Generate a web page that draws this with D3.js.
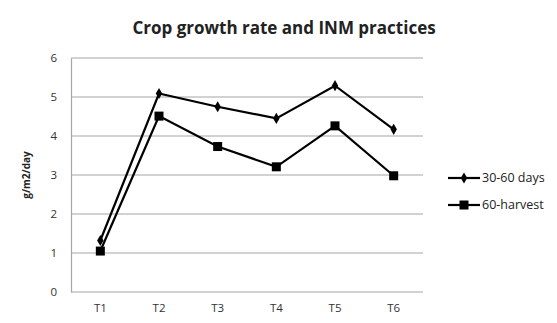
<!DOCTYPE html>
<html><head><meta charset="utf-8">
<script src="https://cdn.jsdelivr.net/npm/d3@7"></script>
<style>body{margin:0;background:#fff}svg{display:block}</style>
</head><body>
<script>
const categories = ["T1","T2","T3","T4","T5","T6"];
const series1Name = "30-60 days";
const series1 = [1.32, 5.09, 4.75, 4.45, 5.29, 4.17];
const series2Name = "60-harvest";
const series2 = [1.05, 4.51, 3.73, 3.21, 4.26, 2.98];
const yTicks = [0,1,2,3,4,5,6];
const titleText = "Crop growth rate and INM practices";
const yTitle = "g/m2/day";

const W = 557, H = 323;
const svg = d3.select("body").append("svg").attr("width", W).attr("height", H);
const m = {left:71, right:W-423, top:58, bottom:H-292};
const x = d3.scaleBand().domain(categories).range([m.left, W-m.right]);
const y = d3.scaleLinear().domain([0,6]).range([H-m.bottom, m.top]);
const font = "Open Sans, Liberation Sans, sans-serif";

// gridlines
svg.append("g").selectAll("line").data(yTicks).join("line")
  .attr("x1", m.left).attr("x2", W-m.right)
  .attr("y1", d=>y(d)).attr("y2", d=>y(d))
  .attr("stroke", "#a6a6a6").attr("stroke-width", 1.2);

// y axis
const ya = svg.append("g").attr("transform", `translate(${m.left},0)`)
  .call(d3.axisLeft(y).tickValues(yTicks).tickFormat(d3.format("d")).tickSize(0).tickPadding(14));
ya.select(".domain").attr("stroke", "#a6a6a6").attr("stroke-width", 1.2);
ya.selectAll("text").attr("font-family", font).attr("font-size", 11.5).attr("fill", "#333");

// x axis
const xa = svg.append("g").attr("transform", `translate(0,${H-m.bottom})`)
  .call(d3.axisBottom(x).tickSize(0).tickPadding(12));
xa.select(".domain").remove();
xa.selectAll("text").attr("font-family", font).attr("font-size", 11.5).attr("fill", "#333");

// title
svg.append("text").attr("x", 284).attr("y", 34).attr("text-anchor", "middle")
  .attr("font-family", font).attr("font-weight", "bold").attr("font-size", 17)
  .attr("fill", "#222").text(titleText);

// y title
svg.append("text").attr("transform", `translate(30,${y(3)}) rotate(-90)`)
  .attr("text-anchor", "middle").attr("font-family", font).attr("font-weight", "bold")
  .attr("font-size", 10).attr("fill", "#222").text(yTitle);

const line = d3.line().x((d,i)=>x(categories[i])+x.bandwidth()/2).y(d=>y(d));
const cx = (d,i)=>x(categories[i])+x.bandwidth()/2;

svg.append("path").datum(series2).attr("d", line).attr("fill","none").attr("stroke","#000").attr("stroke-width",2.2);
svg.append("path").datum(series1).attr("d", line).attr("fill","none").attr("stroke","#000").attr("stroke-width",2.2);

svg.append("g").selectAll("path").data(series1).join("path")
  .attr("transform",(d,i)=>`translate(${cx(d,i)},${y(d)})`)
  .attr("d", d3.symbol(d3.symbolDiamond, 36)).attr("fill","#000");
svg.append("g").selectAll("rect").data(series2).join("rect")
  .attr("x",(d,i)=>cx(d,i)-4.5).attr("y",d=>y(d)-4.5).attr("width",9).attr("height",9).attr("fill","#000");

// legend
const leg = [{name:series1Name, sym:"diamond"},{name:series2Name, sym:"square"}];
const lg = svg.append("g");
leg.forEach((l,i)=>{
  const ly = 178 + i*27;
  lg.append("line").attr("x1",448).attr("x2",480).attr("y1",ly).attr("y2",ly).attr("stroke","#000").attr("stroke-width",2.2);
  if(l.sym==="diamond"){
    lg.append("path").attr("transform",`translate(464,${ly})`).attr("d", d3.symbol(d3.symbolDiamond, 36)).attr("fill","#000");
  } else {
    lg.append("rect").attr("x",459.5).attr("y",ly-4.5).attr("width",9).attr("height",9).attr("fill","#000");
  }
  lg.append("text").attr("x",482).attr("y",ly).attr("dy","0.35em").attr("font-family",font).attr("font-size",12.5).attr("fill","#222").text(l.name);
});
</script>
</body></html>
